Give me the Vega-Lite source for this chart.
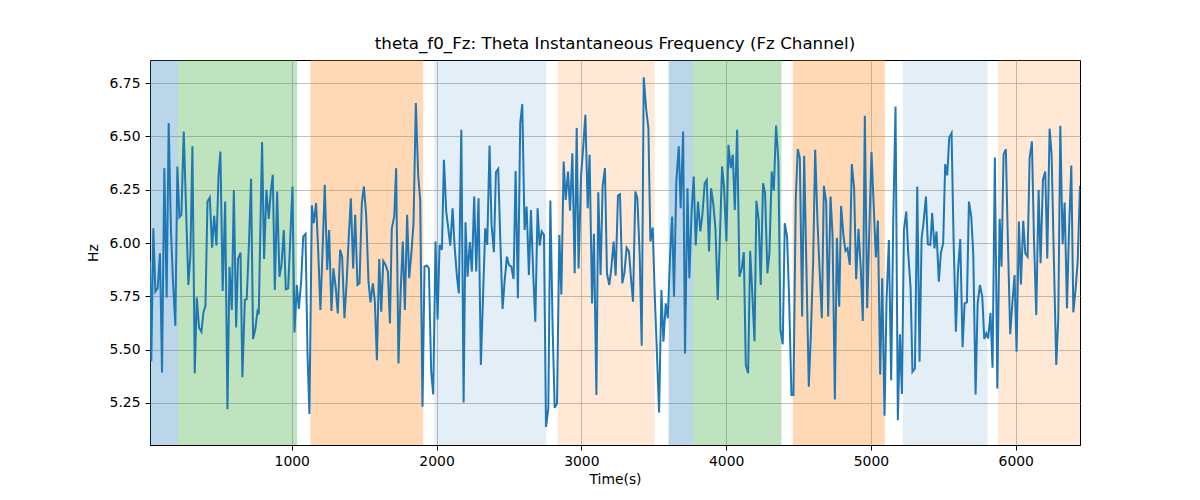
{
  "$schema": "https://vega.github.io/schema/vega-lite/v6.json",
  "width": 930,
  "height": 385,
  "autosize": {"type": "none"},
  "padding": {"left": 150, "top": 60, "right": 120, "bottom": 55},
  "background": "white",
  "title": {"text": "theta_f0_Fz: Theta Instantaneous Frequency (Fz Channel)", "font": "DejaVu Sans", "fontSize": 16.7, "fontWeight": "normal", "color": "black", "offset": 7},
  "config": {
    "view": {"stroke": "black", "strokeWidth": 1},
    "axis": {
      "labelFont": "DejaVu Sans", "labelFontSize": 13.9, "labelColor": "black",
      "titleFont": "DejaVu Sans", "titleFontSize": 13.9, "titleFontWeight": "normal", "titleColor": "black",
      "domainColor": "black", "tickColor": "black", "tickSize": 5, "gridColor": "#b0b0b0", "gridWidth": 0.8
    }
  },
  "datasets": {
    "bands": [
      {"start": 21, "end": 215, "kind": "a"},
      {"start": 215, "end": 1037, "kind": "b"},
      {"start": 1129, "end": 1908, "kind": "c"},
      {"start": 1986, "end": 2758, "kind": "d"},
      {"start": 2836, "end": 3507, "kind": "e"},
      {"start": 3603, "end": 3771, "kind": "a"},
      {"start": 3771, "end": 4382, "kind": "b"},
      {"start": 4460, "end": 5096, "kind": "c"},
      {"start": 5221, "end": 5806, "kind": "d"},
      {"start": 5877, "end": 6444, "kind": "e"}
    ],
    "series": [
      {"t":21,"v":5.913},{"t":30,"v":5.446},{"t":44,"v":6.069},{"t":58,"v":5.772},{"t":74,"v":5.788},{"t":90,"v":5.952},{"t":104,"v":5.393},{"t":120,"v":6.351},{"t":136,"v":5.745},{"t":150,"v":6.562},{"t":166,"v":6.054},{"t":180,"v":5.819},{"t":196,"v":5.612},{"t":210,"v":6.359},{"t":224,"v":6.121},{"t":238,"v":6.132},{"t":254,"v":6.523},{"t":286,"v":5.803},{"t":300,"v":5.944},{"t":314,"v":6.453},{"t":330,"v":5.389},{"t":344,"v":5.744},{"t":360,"v":5.603},{"t":376,"v":5.584},{"t":390,"v":5.675},{"t":404,"v":5.706},{"t":418,"v":6.194},{"t":434,"v":6.213},{"t":450,"v":5.978},{"t":464,"v":6.127},{"t":480,"v":5.988},{"t":494,"v":6.312},{"t":507,"v":6.429},{"t":523,"v":5.775},{"t":540,"v":6.194},{"t":556,"v":5.221},{"t":570,"v":5.888},{"t":586,"v":5.686},{"t":600,"v":6.249},{"t":616,"v":5.604},{"t":629,"v":5.925},{"t":646,"v":5.955},{"t":659,"v":5.371},{"t":676,"v":5.733},{"t":689,"v":5.737},{"t":705,"v":6.007},{"t":719,"v":6.301},{"t":733,"v":5.55},{"t":749,"v":5.6},{"t":763,"v":5.678},{"t":772,"v":5.666},{"t":795,"v":6.473},{"t":809,"v":5.925},{"t":825,"v":6.249},{"t":841,"v":6.113},
      {"t":855,"v":6.241},{"t":869,"v":6.32},{"t":883,"v":5.78},{"t":899,"v":6.241},{"t":915,"v":5.842},{"t":929,"v":5.897},{"t":945,"v":6.061},{"t":959,"v":5.783},{"t":975,"v":5.788},{"t":989,"v":6.007},{"t":1005,"v":6.265},{"t":1019,"v":5.581},{"t":1035,"v":5.803},{"t":1049,"v":5.691},{"t":1065,"v":5.819},{"t":1079,"v":6.03},{"t":1095,"v":6.043},{"t":1109,"v":5.475},{"t":1122,"v":5.198},{"t":1139,"v":6.176},{"t":1152,"v":6.093},{"t":1168,"v":6.187},{"t":1182,"v":5.975},{"t":1198,"v":5.686},{"t":1215,"v":6.007},{"t":1228,"v":6.273},{"t":1245,"v":5.874},{"t":1258,"v":6.061},{"t":1274,"v":5.681},{"t":1288,"v":5.881},{"t":1304,"v":5.788},{"t":1318,"v":5.67},{"t":1334,"v":5.968},{"t":1348,"v":5.936},{"t":1364,"v":5.647},{"t":1378,"v":5.803},{"t":1394,"v":6.03},{"t":1408,"v":6.21},{"t":1424,"v":5.881},{"t":1438,"v":6.132},{"t":1454,"v":5.803},{"t":1468,"v":5.811},{"t":1484,"v":6.187},{"t":1498,"v":6.265},{"t":1514,"v":6.132},{"t":1530,"v":5.819},{"t":1544,"v":5.722},{"t":1560,"v":5.811},{"t":1574,"v":5.725},{"t":1588,"v":5.451},{"t":1604,"v":5.925},{"t":1618,"v":5.678},{"t":1632,"v":5.916},{"t":1648,"v":5.897},{"t":1664,"v":5.866},
      {"t":1678,"v":5.623},{"t":1691,"v":6.069},{"t":1708,"v":6.124},{"t":1721,"v":6.351},{"t":1737,"v":5.435},{"t":1751,"v":5.756},{"t":1767,"v":6.007},{"t":1781,"v":5.686},{"t":1797,"v":6.132},{"t":1811,"v":5.835},{"t":1827,"v":5.96},{"t":1841,"v":6.093},{"t":1857,"v":6.656},{"t":1873,"v":6.32},{"t":1887,"v":6.202},{"t":1903,"v":5.232},{"t":1917,"v":5.889},{"t":1933,"v":5.894},{"t":1947,"v":5.881},{"t":1963,"v":5.396},{"t":1977,"v":5.29},{"t":1993,"v":6.007},{"t":2007,"v":5.642},{"t":2021,"v":5.991},{"t":2037,"v":5.968},{"t":2051,"v":6.39},{"t":2067,"v":6.147},{"t":2081,"v":6.069},{"t":2095,"v":5.988},{"t":2111,"v":6.163},{"t":2124,"v":5.991},{"t":2141,"v":5.842},{"t":2154,"v":5.764},{"t":2171,"v":6.531},{"t":2187,"v":5.252},{"t":2200,"v":6.097},{"t":2214,"v":5.842},{"t":2230,"v":6.004},{"t":2244,"v":5.866},{"t":2260,"v":6.218},{"t":2274,"v":5.866},{"t":2290,"v":6.21},{"t":2306,"v":5.428},{"t":2320,"v":5.725},{"t":2336,"v":6.069},{"t":2350,"v":5.991},{"t":2366,"v":6.457},{"t":2380,"v":6.085},{"t":2396,"v":5.957},{"t":2410,"v":6.332},{"t":2426,"v":6.348},{"t":2440,"v":6.022},{"t":2456,"v":5.691},{"t":2470,"v":5.819},{"t":2486,"v":5.936},{"t":2500,"v":5.897},
      {"t":2516,"v":5.889},{"t":2532,"v":5.831},{"t":2546,"v":6.338},{"t":2562,"v":5.741},{"t":2578,"v":6.562},{"t":2592,"v":6.651},{"t":2608,"v":6.061},{"t":2622,"v":6.171},{"t":2638,"v":5.85},{"t":2652,"v":6.155},{"t":2668,"v":5.85},{"t":2682,"v":5.631},{"t":2698,"v":6.163},{"t":2712,"v":5.988},{"t":2726,"v":6.054},{"t":2742,"v":6.038},{"t":2756,"v":5.138},{"t":2772,"v":5.224},{"t":2786,"v":6.199},{"t":2802,"v":5.592},{"t":2816,"v":5.227},{"t":2832,"v":5.248},{"t":2848,"v":6.038},{"t":2862,"v":5.759},{"t":2878,"v":6.382},{"t":2892,"v":6.202},{"t":2908,"v":6.335},{"t":2922,"v":6.151},{"t":2938,"v":6.421},{"t":2954,"v":5.858},{"t":2968,"v":6.539},{"t":2981,"v":5.881},{"t":2998,"v":6.312},{"t":3014,"v":6.46},{"t":3028,"v":6.601},{"t":3044,"v":6.163},{"t":3057,"v":6.414},{"t":3074,"v":5.717},{"t":3087,"v":6.043},{"t":3104,"v":5.287},{"t":3117,"v":6.238},{"t":3133,"v":5.85},{"t":3147,"v":6.265},{"t":3163,"v":6.351},{"t":3177,"v":5.858},{"t":3193,"v":5.803},{"t":3207,"v":5.881},{"t":3223,"v":6.007},{"t":3237,"v":5.847},{"t":3253,"v":6.223},{"t":3267,"v":6.229},{"t":3283,"v":5.811},{"t":3297,"v":5.858},{"t":3313,"v":5.978},{"t":3329,"v":5.96},
      {"t":3343,"v":5.835},{"t":3357,"v":5.725},{"t":3373,"v":6.241},{"t":3387,"v":6.21},{"t":3403,"v":5.944},{"t":3417,"v":5.518},{"t":3431,"v":6.777},{"t":3447,"v":6.633},{"t":3463,"v":6.539},{"t":3477,"v":6.007},{"t":3493,"v":6.072},{"t":3507,"v":5.756},{"t":3523,"v":5.467},{"t":3537,"v":5.205},{"t":3553,"v":5.78},{"t":3567,"v":5.537},{"t":3583,"v":5.717},{"t":3597,"v":5.647},{"t":3613,"v":5.944},{"t":3627,"v":6.124},{"t":3640,"v":5.748},{"t":3656,"v":6.288},{"t":3673,"v":6.453},{"t":3686,"v":6.163},{"t":3703,"v":6.523},{"t":3716,"v":5.482},{"t":3733,"v":6.257},{"t":3746,"v":5.835},{"t":3762,"v":6.155},{"t":3776,"v":6.312},{"t":3790,"v":5.988},{"t":3806,"v":6.194},{"t":3822,"v":6.054},{"t":3836,"v":6.132},{"t":3852,"v":6.28},{"t":3866,"v":6.296},{"t":3882,"v":5.96},{"t":3896,"v":6.257},{"t":3912,"v":6.179},{"t":3926,"v":6.069},{"t":3942,"v":5.733},{"t":3956,"v":6.007},{"t":3972,"v":6.359},{"t":3986,"v":6.257},{"t":4002,"v":6.007},{"t":4016,"v":6.46},{"t":4032,"v":6.351},{"t":4046,"v":6.414},{"t":4060,"v":6.155},{"t":4076,"v":6.531},{"t":4092,"v":5.842},{"t":4108,"v":5.881},{"t":4122,"v":5.957},{"t":4136,"v":5.428},{"t":4152,"v":5.389},
      {"t":4166,"v":5.963},{"t":4179,"v":5.788},{"t":4196,"v":5.54},{"t":4209,"v":6.198},{"t":4225,"v":6.108},{"t":4239,"v":5.803},{"t":4255,"v":6.28},{"t":4269,"v":6.234},{"t":4285,"v":5.858},{"t":4299,"v":5.952},{"t":4315,"v":6.335},{"t":4329,"v":6.245},{"t":4345,"v":6.551},{"t":4361,"v":6.382},{"t":4375,"v":5.592},{"t":4391,"v":5.525},{"t":4405,"v":6.093},{"t":4421,"v":6.03},{"t":4435,"v":5.741},{"t":4451,"v":5.287},{"t":4465,"v":5.287},{"t":4481,"v":6.21},{"t":4495,"v":6.44},{"t":4509,"v":6.398},{"t":4525,"v":5.655},{"t":4539,"v":6.409},{"t":4555,"v":5.866},{"t":4571,"v":5.326},{"t":4585,"v":5.568},{"t":4601,"v":5.913},{"t":4615,"v":6.437},{"t":4631,"v":6.101},{"t":4645,"v":5.881},{"t":4661,"v":5.647},{"t":4675,"v":6.268},{"t":4691,"v":6.194},{"t":4705,"v":5.655},{"t":4721,"v":6.218},{"t":4735,"v":6.038},{"t":4751,"v":5.266},{"t":4765,"v":6.025},{"t":4781,"v":5.701},{"t":4794,"v":6.174},{"t":4811,"v":6.03},{"t":4824,"v":5.963},{"t":4838,"v":5.975},{"t":4854,"v":5.897},{"t":4868,"v":6.37},{"t":4884,"v":6.257},{"t":4898,"v":5.83},{"t":4914,"v":6.066},{"t":4930,"v":5.881},{"t":4944,"v":5.634},{"t":4958,"v":6.597},{"t":4974,"v":5.694},
      {"t":5004,"v":6.426},{"t":5034,"v":5.932},{"t":5048,"v":6.105},{"t":5064,"v":5.384},{"t":5078,"v":5.835},{"t":5094,"v":5.19},{"t":5108,"v":5.733},{"t":5124,"v":6.014},{"t":5140,"v":5.357},{"t":5154,"v":6.101},{"t":5170,"v":6.64},{"t":5186,"v":5.169},{"t":5200,"v":5.572},{"t":5214,"v":5.292},{"t":5228,"v":6.061},{"t":5244,"v":6.147},{"t":5257,"v":5.96},{"t":5274,"v":5.788},{"t":5287,"v":5.396},{"t":5304,"v":5.412},{"t":5320,"v":6.265},{"t":5336,"v":5.443},{"t":5350,"v":6.022},{"t":5363,"v":6.093},{"t":5380,"v":6.218},{"t":5393,"v":5.994},{"t":5410,"v":5.991},{"t":5423,"v":6.14},{"t":5439,"v":5.975},{"t":5453,"v":6.054},{"t":5469,"v":5.819},{"t":5483,"v":5.952},{"t":5499,"v":5.999},{"t":5513,"v":6.37},{"t":5527,"v":6.317},{"t":5541,"v":6.495},{"t":5557,"v":6.515},{"t":5571,"v":6.014},{"t":5587,"v":5.584},{"t":5601,"v":5.866},{"t":5617,"v":6.019},{"t":5633,"v":5.511},{"t":5647,"v":5.717},{"t":5663,"v":5.722},{"t":5677,"v":6.194},{"t":5693,"v":6.124},{"t":5707,"v":5.947},{"t":5723,"v":5.29},{"t":5737,"v":5.717},{"t":5753,"v":5.803},{"t":5769,"v":5.748},{"t":5783,"v":5.55},{"t":5797,"v":5.576},{"t":5810,"v":5.553},
      {"t":5826,"v":5.673},{"t":5840,"v":5.415},{"t":5856,"v":6.401},{"t":5873,"v":5.318},{"t":5889,"v":6.113},{"t":5902,"v":5.889},{"t":5916,"v":6.414},{"t":5932,"v":6.44},{"t":5946,"v":6.007},{"t":5962,"v":5.572},{"t":5976,"v":5.709},{"t":5992,"v":5.85},{"t":6006,"v":5.49},{"t":6022,"v":6.101},{"t":6036,"v":5.806},{"t":6052,"v":6.104},{"t":6066,"v":5.952},{"t":6082,"v":5.936},{"t":6096,"v":6.398},{"t":6112,"v":6.476},{"t":6126,"v":6.022},{"t":6142,"v":5.662},{"t":6158,"v":6.249},{"t":6172,"v":5.905},{"t":6188,"v":6.296},{"t":6204,"v":6.335},{"t":6218,"v":5.928},{"t":6234,"v":6.536},{"t":6248,"v":6.414},{"t":6264,"v":5.913},{"t":6280,"v":5.428},{"t":6294,"v":5.647},{"t":6308,"v":6.55},{"t":6324,"v":5.994},{"t":6338,"v":6.19},{"t":6354,"v":5.694},{"t":6368,"v":6.054},{"t":6384,"v":6.363},{"t":6398,"v":5.675},{"t":6414,"v":5.788},{"t":6428,"v":5.913},{"t":6444,"v":6.268}
    ]
  },
  "layer": [
    {
      "data": {"name": "bands"},
      "transform": [{"filter": "datum.kind == 'a' || datum.kind == 'b' || datum.kind == 'c'"}],
      "mark": {"type": "rect", "clip": true, "opacity": 0.3},
      "encoding": {
        "x": {"field": "start", "type": "quantitative", "scale": {"domain": [21, 6444], "nice": false, "zero": false}, "axis": {"title": "Time(s)", "values": [1000, 2000, 3000, 4000, 5000, 6000], "format": "d", "labelPadding": 4, "titlePadding": 5}},
        "x2": {"field": "end"},
        "color": {"field": "kind", "type": "nominal", "legend": null, "scale": {"domain": ["a", "b", "c", "d", "e"], "range": ["#1f77b4", "#2ca02c", "#ff7f0e", "#1f77b4", "#ff7f0e"]}}
      }
    },
    {
      "data": {"name": "bands"},
      "transform": [{"filter": "datum.kind == 'd'"}],
      "mark": {"type": "rect", "clip": true, "opacity": 0.12},
      "encoding": {
        "x": {"field": "start", "type": "quantitative"},
        "x2": {"field": "end"},
        "color": {"field": "kind", "type": "nominal", "legend": null}
      }
    },
    {
      "data": {"name": "bands"},
      "transform": [{"filter": "datum.kind == 'e'"}],
      "mark": {"type": "rect", "clip": true, "opacity": 0.17},
      "encoding": {
        "x": {"field": "start", "type": "quantitative"},
        "x2": {"field": "end"},
        "color": {"field": "kind", "type": "nominal", "legend": null}
      }
    },
    {
      "data": {"name": "series"},
      "mark": {"type": "line", "color": "#1f77b4", "strokeWidth": 2, "clip": true},
      "encoding": {
        "x": {"field": "t", "type": "quantitative"},
        "y": {"field": "v", "type": "quantitative", "scale": {"domain": [5.053, 6.858], "nice": false, "zero": false}, "axis": {"title": "Hz", "values": [5.25, 5.5, 5.75, 6.0, 6.25, 6.5, 6.75], "format": ".2f", "labelPadding": 5, "titlePadding": 9}}
      }
    }
  ]
}
